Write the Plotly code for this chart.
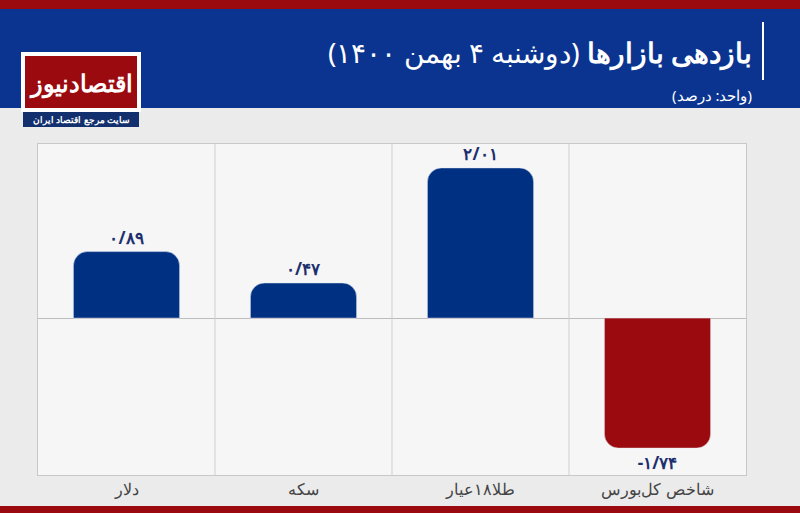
import plotly.graph_objects as go

categories = ["دلار", "سکه", "طلا۱۸عیار", "شاخص کل‌بورس"]
values = [0.89, 0.47, 2.01, -1.74]
value_labels = ["۰/۸۹", "۰/۴۷", "۲/۰۱", "-۱/۷۴"]
colors = ["#003082", "#003082", "#003082", "#9b0a0e"]

W, H = 800, 513
fig = go.Figure(go.Bar(
    x=categories, y=values, marker_color=colors, width=0.6,
    text=["<b>%s</b>" % t for t in value_labels], textposition="outside", cliponaxis=False,
    textfont=dict(family="Noto Sans", size=17, color="#1d2f6f"),
))
fig.update_layout(
    width=W, height=H, margin=dict(l=38, r=54, t=144, b=38),
    paper_bgcolor="#ebebeb", plot_bgcolor="#f6f6f6",
    barcornerradius=14, showlegend=False,
    font=dict(family="Noto Sans"),
)
fig.update_xaxes(showgrid=False, tickfont=dict(size=16, color="#444"), automargin=False,
                 showline=True, linecolor="#c8c8c8", mirror=True, ticks="", ticklen=0)
fig.update_yaxes(range=[-2.1, 2.33], showticklabels=False, showgrid=False,
                 zeroline=True, zerolinecolor="#bdbdbd", zerolinewidth=1,
                 showline=True, linecolor="#c8c8c8", mirror=True)

def pp(x, y):
    return (x-38)/708, 1-(y-144)/331

def rect(x0, y0, x1, y1, fill, layer="below"):
    return dict(type="rect", xref="paper", yref="paper", layer=layer,
                x0=pp(x0, 0)[0], x1=pp(x1, 0)[0], y0=pp(0, y1)[1], y1=pp(0, y0)[1],
                fillcolor=fill, line_width=0)

shapes = []
for xv in [0.5, 1.5, 2.5]:
    shapes.append(dict(type="line", xref="x", yref="paper", x0=xv, x1=xv, y0=0, y1=1,
                       line=dict(color="#cfcfcf", width=1)))
shapes.append(rect(0, 0, 800, 9, "#9b0a0e"))
shapes.append(rect(0, 9, 800, 108, "#0a3490"))
shapes.append(rect(0, 506, 800, 513, "#9b0a0e"))
shapes.append(dict(type="line", xref="paper", yref="paper",
                   x0=pp(763, 0)[0], x1=pp(763, 0)[0], y0=pp(0, 22)[1], y1=pp(0, 80)[1],
                   line=dict(color="white", width=2)))
shapes.append(rect(21, 52, 141, 112, "#ffffff", "above"))
shapes.append(rect(25, 56, 137, 108, "#9b0a0e", "above"))
shapes.append(rect(23, 112, 139, 127, "#12306e", "above"))
fig.update_layout(shapes=shapes)

ann = [
    dict(text="<b>بازدهی بازارها</b> (دوشنبه ۴ بهمن ۱۴۰۰)", x=pp(754, 0)[0], y=pp(0, 52)[1],
         xanchor="right", yanchor="middle", font=dict(size=28, color="white")),
    dict(text="(واحد: درصد)", x=pp(754, 0)[0], y=pp(0, 95)[1],
         xanchor="right", yanchor="middle", font=dict(size=15, color="white")),
    dict(text="<b>اقتصادنیوز</b>", x=pp(81, 0)[0], y=pp(0, 82)[1],
         xanchor="center", yanchor="middle", font=dict(size=24, color="white")),
    dict(text="<b>سایت مرجع اقتصاد ایران</b>", x=pp(81, 0)[0], y=pp(0, 119)[1],
         xanchor="center", yanchor="middle", font=dict(size=9, color="white")),
]
for a in ann:
    a.update(xref="paper", yref="paper", showarrow=False)
fig.update_layout(annotations=ann)
fig.write_html("out.html", config={"displayModeBar": False},
               post_script="document.body.style.margin='0';document.body.style.overflow='hidden';")
